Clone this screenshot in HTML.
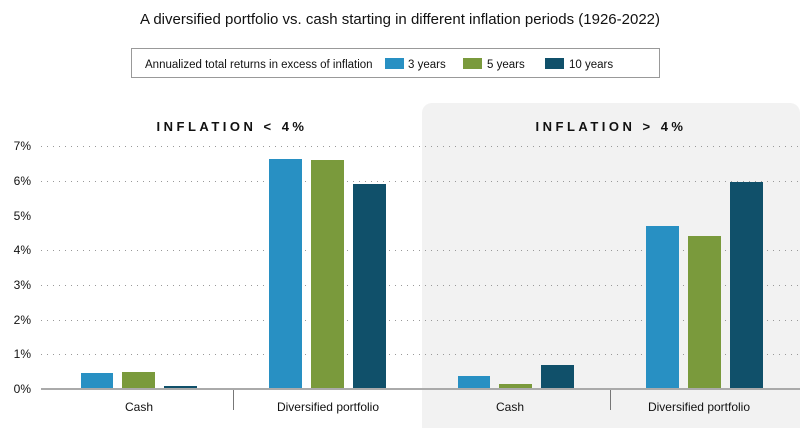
<!DOCTYPE html>
<html><head><meta charset="utf-8"><style>
body{margin:0;background:#fff}
svg{display:block;font-family:"Liberation Sans",sans-serif}
</style></head><body>
<svg width="800" height="428" viewBox="0 0 800 428" xmlns="http://www.w3.org/2000/svg">
<text x="400" y="24" text-anchor="middle" font-size="15" fill="#111">A diversified portfolio vs. cash starting in different inflation periods (1926-2022)</text>
<rect x="131.5" y="48.5" width="528" height="29" fill="#fff" stroke="#999" stroke-width="1"/>
<text x="145" y="68" font-size="11.5" fill="#111">Annualized total returns in excess of inflation</text>
<rect x="385" y="58" width="19" height="11" fill="#2890c3"/>
<text x="408" y="68" font-size="11.5" fill="#111">3 years</text>
<rect x="463" y="58" width="19" height="11" fill="#7a9a3c"/>
<text x="487" y="68" font-size="11.5" fill="#111">5 years</text>
<rect x="545" y="58" width="19" height="11" fill="#10506a"/>
<text x="569" y="68" font-size="11.5" fill="#111">10 years</text>
<path d="M422 428 V113 A10 10 0 0 1 432 103 H790 A10 10 0 0 1 800 113 V428 Z" fill="#f2f2f2"/>
<text x="232" y="131" text-anchor="middle" font-size="13" font-weight="bold" letter-spacing="3.5" fill="#111">INFLATION &lt; 4%</text>
<text x="611" y="131" text-anchor="middle" font-size="13" font-weight="bold" letter-spacing="3.5" fill="#111">INFLATION &gt; 4%</text>
<g stroke="#999" stroke-width="1" stroke-dasharray="1 5">
<line x1="41" x2="800" y1="146.5" y2="146.5"/>
<line x1="41" x2="800" y1="181.5" y2="181.5"/>
<line x1="41" x2="800" y1="250.5" y2="250.5"/>
<line x1="41" x2="800" y1="285.5" y2="285.5"/>
<line x1="41" x2="800" y1="320.5" y2="320.5"/>
<line x1="41" x2="800" y1="354.5" y2="354.5"/>
</g>
<g font-size="12" fill="#111" text-anchor="end">
<text x="31" y="150">7%</text><text x="31" y="185">6%</text><text x="31" y="220">5%</text><text x="31" y="254">4%</text><text x="31" y="289">3%</text><text x="31" y="324">2%</text><text x="31" y="358">1%</text><text x="31" y="393">0%</text>
</g>
<g>
<rect x="81" y="373" width="32" height="16" fill="#2890c3"/>
<rect x="122" y="372" width="33" height="17" fill="#7a9a3c"/>
<rect x="164" y="386" width="33" height="3" fill="#10506a"/>
<rect x="269" y="159" width="33" height="230" fill="#2890c3"/>
<rect x="311" y="160" width="33" height="229" fill="#7a9a3c"/>
<rect x="353" y="184" width="33" height="205" fill="#10506a"/>
<rect x="458" y="376" width="32" height="13" fill="#2890c3"/>
<rect x="499" y="384" width="33" height="5" fill="#7a9a3c"/>
<rect x="541" y="365" width="33" height="24" fill="#10506a"/>
<rect x="646" y="226" width="33" height="163" fill="#2890c3"/>
<rect x="688" y="236" width="33" height="153" fill="#7a9a3c"/>
<rect x="730" y="182" width="33" height="207" fill="#10506a"/>
</g>
<line x1="41" x2="800" y1="389" y2="389" stroke="#aaa" stroke-width="2"/>
<line x1="233.5" x2="233.5" y1="390" y2="410" stroke="#777"/>
<line x1="610.5" x2="610.5" y1="390" y2="410" stroke="#777"/>
<g font-size="12" fill="#111" text-anchor="middle">
<text x="139" y="411">Cash</text><text x="328" y="411">Diversified portfolio</text>
<text x="510" y="411">Cash</text><text x="699" y="411">Diversified portfolio</text>
</g>
</svg>
</body></html>
